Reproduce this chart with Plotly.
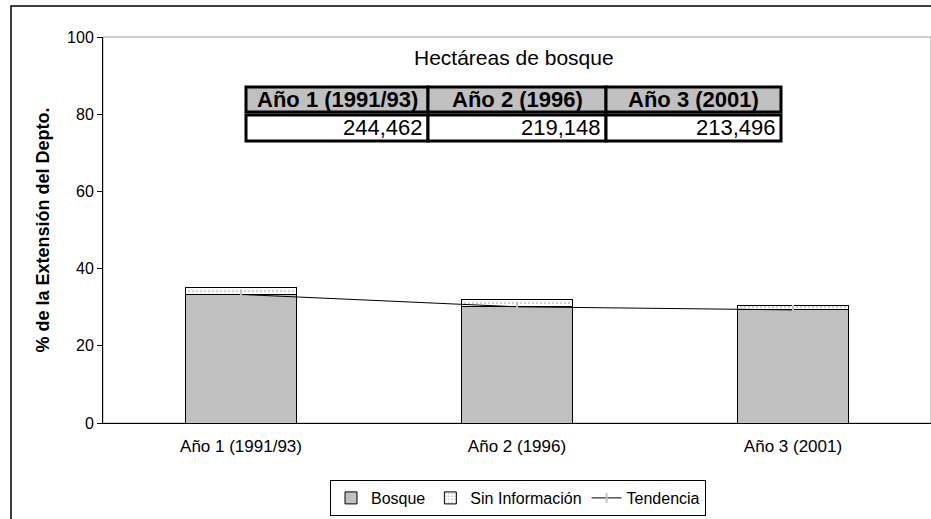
import plotly.graph_objects as go

categories = ["Año 1 (1991/93)", "Año 2 (1996)", "Año 3 (2001)"]
bosque = [33.3, 30.1, 29.3]
sin_info = [1.9, 1.8, 1.2]
tendencia = [33.3, 30.1, 29.3]
hectareas = ["244,462", "219,148", "213,496"]
y_ticks = [0, 20, 40, 60, 80, 100]

W, H = 931, 519
L, R, T = 103, 0, 37
B = H - 423
pw = W - L - R
ph = H - T - B

def px_x(x):
    return (x - L) / pw

def px_y(y):
    return (H - B - y) / ph

FONT = "Liberation Sans, Arial, sans-serif"

fig = go.Figure()
fig.add_trace(go.Bar(
    x=categories, y=bosque, name="Bosque",
    marker=dict(color="#c0c0c0", line=dict(color="black", width=1)),
    width=0.4,
))
fig.add_trace(go.Bar(
    x=categories, y=sin_info, name="Sin Información",
    marker=dict(color="white", line=dict(color="black", width=1),
                pattern=dict(shape=".", fgcolor="#a0a0a0", bgcolor="white", size=4, solidity=0.3)),
    width=0.4,
))
fig.add_trace(go.Scatter(
    x=categories, y=tendencia, name="Tendencia", mode="lines+markers",
    line=dict(color="black", width=1),
    marker=dict(symbol="line-ns", size=7, color="#c0c0c0", line=dict(color="#c0c0c0", width=2)),
))

# table of hectares (built from the lists above)
col_edges = [246, 428, 606, 781]
head_top, head_bot, data_top, data_bot = 87, 112, 115, 141
for i, (cat, val) in enumerate(zip(categories, hectareas)):
    x0, x1 = col_edges[i], col_edges[i + 1]
    fig.add_shape(type="rect", xref="paper", yref="paper",
                  x0=px_x(x0), x1=px_x(x1), y0=px_y(head_bot), y1=px_y(head_top),
                  fillcolor="#c0c0c0", line=dict(color="black", width=3))
    fig.add_shape(type="rect", xref="paper", yref="paper",
                  x0=px_x(x0), x1=px_x(x1), y0=px_y(data_bot), y1=px_y(data_top),
                  fillcolor="white", line=dict(color="black", width=3))
    fig.add_annotation(text=f"<b>{cat}</b>", xref="paper", yref="paper",
                       x=px_x((x0 + x1) / 2), xanchor="center",
                       y=px_y((head_top + head_bot) / 2), yanchor="middle",
                       showarrow=False, font=dict(family=FONT, size=22, color="black"))
    fig.add_annotation(text=val, xref="paper", yref="paper",
                       x=px_x(x1 - 3), xanchor="right",
                       y=px_y((data_top + data_bot) / 2), yanchor="middle",
                       showarrow=False, font=dict(family=FONT, size=22, color="black"))

fig.add_annotation(text="Hectáreas de bosque", x=px_x(514), xanchor="center",
                   y=px_y(58), yanchor="middle", xref="paper", yref="paper",
                   showarrow=False, font=dict(family=FONT, size=21, color="black"))

# plot area border (gray)
fig.add_shape(type="rect", xref="paper", yref="paper", x0=0, x1=1, y0=0, y1=1,
              line=dict(color="#a0a0a0", width=1), layer="below")
# outer chart border
fig.add_shape(type="rect", xref="paper", yref="paper", x0=px_x(11), x1=px_x(960), y0=px_y(560), y1=px_y(6),
              line=dict(color="black", width=1.5), layer="below")

fig.update_layout(
    width=W, height=H,
    margin=dict(l=L, r=R, t=T, b=B, autoexpand=False),
    paper_bgcolor="white", plot_bgcolor="white",
    barmode="stack", bargap=0.6,
    font=dict(family=FONT, size=14, color="black"),
    showlegend=True,
    legend=dict(orientation="h", x=px_x(518), xanchor="center", y=px_y(480), yanchor="top",
                bordercolor="black", borderwidth=1, font=dict(size=16), traceorder="normal",
                itemwidth=30),
    xaxis=dict(showline=True, linecolor="black", linewidth=1, ticks="outside", ticklen=8,
               tickcolor="rgba(0,0,0,0)", tickfont=dict(size=17), showgrid=False),
    yaxis=dict(range=[0, 100], tickvals=y_ticks, showline=True, linecolor="black", linewidth=1,
               ticks="outside", ticklen=5, tickcolor="black", showgrid=False, zeroline=False,
               tickfont=dict(size=16),
               title=dict(text="<b>% de la Extensión del Depto.</b>", font=dict(size=18), standoff=12)),
)

fig.write_html("out.html", config={"displayModeBar": False},
               post_script="document.body.style.margin='0';document.body.style.overflow='hidden';")
